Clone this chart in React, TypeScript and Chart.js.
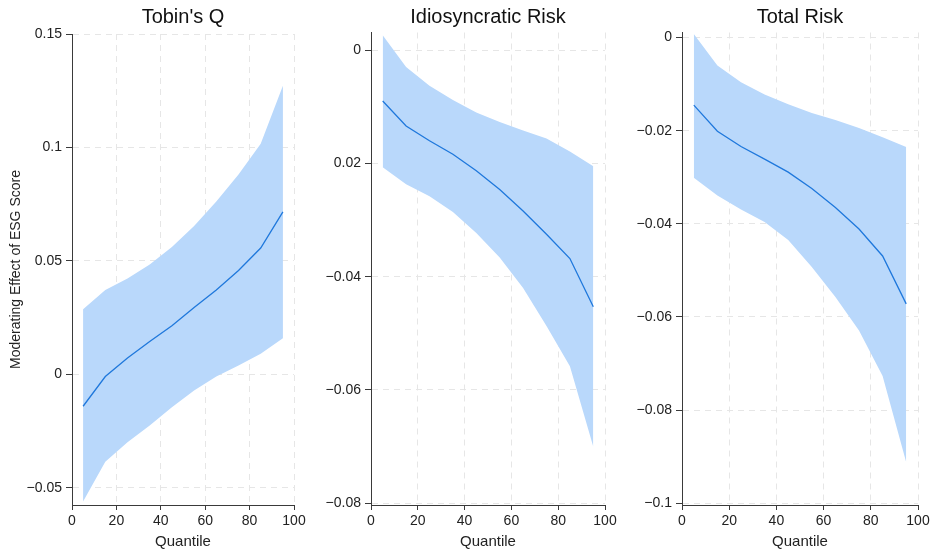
import React, { useEffect, useRef } from "react";
import { Chart, registerables } from "chart.js";

Chart.register(...registerables);

const FONT = "'Liberation Sans', Arial, Helvetica, sans-serif";

// Quantiles at which the moderating effect is estimated
const quantiles = [5, 15, 25, 35, 45, 55, 65, 75, 85, 95];

// Tobin's Q
const tobinsEstimate = [-0.0140, -0.0009, 0.0073, 0.0145, 0.0215, 0.0295, 0.0372, 0.0458, 0.0557, 0.0716];
const tobinsUpper = [0.0287, 0.0372, 0.0423, 0.0485, 0.0562, 0.0654, 0.0762, 0.0881, 0.1017, 0.1272];
const tobinsLower = [-0.0560, -0.0384, -0.0299, -0.0225, -0.0144, -0.0071, -0.0009, 0.0040, 0.0091, 0.0160];

// Idiosyncratic Risk
const idioEstimate = [-0.0090, -0.0134, -0.0160, -0.0184, -0.0213, -0.0246, -0.0284, -0.0325, -0.0368, -0.0453];
const idioUpper = [0.0026, -0.0030, -0.0063, -0.0088, -0.0110, -0.0127, -0.0142, -0.0156, -0.0179, -0.0205];
const idioLower = [-0.0207, -0.0237, -0.0258, -0.0286, -0.0323, -0.0366, -0.0420, -0.0487, -0.0558, -0.0700];

// Total Risk
const totalEstimate = [-0.0145, -0.0201, -0.0234, -0.0261, -0.0289, -0.0324, -0.0365, -0.0411, -0.0469, -0.0572];
const totalUpper = [0.0008, -0.0060, -0.0096, -0.0122, -0.0143, -0.0162, -0.0177, -0.0194, -0.0214, -0.0235];
const totalLower = [-0.0301, -0.0339, -0.0369, -0.0396, -0.0435, -0.0493, -0.0557, -0.0629, -0.0727, -0.0912];

// Tick values and labels
const xTicks = [0, 20, 40, 60, 80, 100];
const xTickLabels = ["0", "20", "40", "60", "80", "100"];
const tobinsTicks = [-0.05, 0, 0.05, 0.1, 0.15];
const tobinsTickLabels = ["\u22120.05", "0", "0.05", "0.1", "0.15"];
const idioTicks = [-0.08, -0.06, -0.04, -0.02, 0];
const idioTickLabels = ["\u22120.08", "\u22120.06", "\u22120.04", "0.02", "0"];
const totalTicks = [-0.1, -0.08, -0.06, -0.04, -0.02, 0];
const totalTickLabels = ["\u22120.1", "\u22120.08", "\u22120.06", "\u22120.04", "\u22120.02", "0"];

const titles = ["Tobin's Q", "Idiosyncratic Risk", "Total Risk"];
const yTitle = "Moderating Effect of ESG Score";
const xTitle = "Quantile";

const BAND = "#b9d8fb";
const LINE = "#1f78dc";
const AXIS = "#3a3a3a";
const GRID = "#e6e6e6";

type PanelSpec = {
  title: string;
  est: number[];
  up: number[];
  lo: number[];
  ticks: number[];
  labels: string[];
  yMin: number;
  yMax: number;
  left: number;
  yWidth: number;
  padRight: number;
  titleBottom: number;
  showYTitle: boolean;
};

const panels: PanelSpec[] = [
  { title: titles[0], est: tobinsEstimate, up: tobinsUpper, lo: tobinsLower, ticks: tobinsTicks, labels: tobinsTickLabels, yMin: -0.0575, yMax: 0.15, left: 0, yWidth: 72, padRight: 19, titleBottom: 5, showYTitle: true },
  { title: titles[1], est: idioEstimate, up: idioUpper, lo: idioLower, ticks: idioTicks, labels: idioTickLabels, yMin: -0.0803, yMax: 0.0031, left: 313, yWidth: 58, padRight: 21, titleBottom: 3.5, showYTitle: false },
  { title: titles[2], est: totalEstimate, up: totalUpper, lo: totalLower, ticks: totalTicks, labels: totalTickLabels, yMin: -0.1004, yMax: 0.0011, left: 626, yWidth: 56, padRight: 21, titleBottom: 3.5, showYTitle: false },
];

const W = 313;
const H = 549;

function labelFor(ticks: number[], labels: string[], v: number) {
  const i = ticks.findIndex((t) => Math.abs(t - v) < 1e-9);
  return i >= 0 ? labels[i] : "";
}

function Panel({ spec }: { spec: PanelSpec }) {
  const ref = useRef<HTMLCanvasElement | null>(null);
  useEffect(() => {
    if (!ref.current) return;
    const pts = (arr: number[]) => quantiles.map((q, i) => ({ x: q, y: arr[i] }));
    const chart = new Chart(ref.current, {
      type: "line",
      data: {
        datasets: [
          // point estimate (drawn last, on top)
          { data: pts(spec.est), borderWidth: 1.3, pointRadius: 0, fill: false, borderColor: LINE, tension: 0 },
          // lower bound of the confidence band
          { data: pts(spec.lo), borderWidth: 0, pointRadius: 0, fill: false, borderColor: "rgba(0,0,0,0)" },
          // upper bound, filled down to the lower bound
          { data: pts(spec.up), borderWidth: 0, pointRadius: 0, fill: "-1", backgroundColor: BAND, borderColor: "rgba(0,0,0,0)" },
        ],
      },
      options: {
        animation: false,
        responsive: false,
        maintainAspectRatio: false,
        layout: { padding: { left: 0, right: spec.padRight, top: 0, bottom: 0 } },
        plugins: {
          legend: { display: false },
          tooltip: { enabled: false },
          title: {
            display: true,
            text: spec.title,
            fullSize: false,
            color: "#111",
            font: { family: FONT, size: 20, weight: "normal", lineHeight: 1.2 },
            padding: { top: 5, bottom: spec.titleBottom },
          },
        },
        scales: {
          x: {
            type: "linear",
            min: 0,
            max: 100,
            afterBuildTicks: (scale: any) => {
              scale.ticks = xTicks.map((v) => ({ value: v }));
            },
            afterFit: (scale: any) => {
              scale.height = 44;
            },
            ticks: {
              color: "#222",
              font: { family: FONT, size: 14, lineHeight: 1.2 },
              padding: 3,
              maxRotation: 0,
              callback: (v: any) => labelFor(xTicks, xTickLabels, Number(v)),
            },
            grid: { color: GRID, lineWidth: 1, tickColor: AXIS, tickLength: 5, tickWidth: 1 },
            border: { display: true, color: AXIS, width: 1, dash: [6, 5] },
            title: {
              display: true,
              text: xTitle,
              color: "#222",
              font: { family: FONT, size: 15, lineHeight: 1 },
              padding: { top: 0, bottom: 0 },
            },
          },
          y: {
            type: "linear",
            min: spec.yMin,
            max: spec.yMax,
            afterBuildTicks: (scale: any) => {
              scale.ticks = spec.ticks.map((v) => ({ value: v }));
            },
            afterFit: (scale: any) => {
              scale.width = spec.yWidth;
            },
            ticks: {
              color: "#222",
              font: { family: FONT, size: 14, lineHeight: 1.2 },
              padding: 4,
              callback: (v: any) => labelFor(spec.ticks, spec.labels, Number(v)),
            },
            grid: { color: GRID, lineWidth: 1, tickColor: AXIS, tickLength: 6, tickWidth: 1 },
            border: { display: true, color: AXIS, width: 1, dash: [6, 5] },
            title: {
              display: spec.showYTitle,
              text: yTitle,
              color: "#222",
              font: { family: FONT, size: 14, lineHeight: 1.2 },
              padding: { top: 8, bottom: 0 },
            },
          },
        },
      } as any,
    });
    return () => chart.destroy();
  }, [spec]);
  return (
    <canvas
      ref={ref}
      width={W}
      height={H}
      style={{ position: "absolute", left: spec.left, top: 0, width: W, height: H }}
    />
  );
}

export default function App() {
  return (
    <div style={{ position: "absolute", left: 0, top: 0, width: 939, height: 549, background: "#ffffff", overflow: "hidden" }}>
      {panels.map((p) => (
        <Panel key={p.title} spec={p} />
      ))}
    </div>
  );
}
